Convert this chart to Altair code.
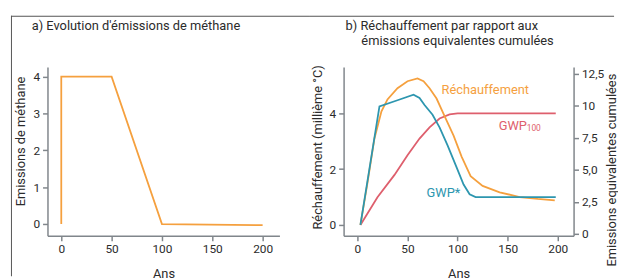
import altair as alt
import pandas as pd

# ---------------- data ----------------
TITLE_A = "a) Evolution d'émissions de méthane"
TITLE_B1 = "b) Réchauffement par rapport aux"
TITLE_B2 = "émissions equivalentes cumulées"

years_a = [0, 0, 50, 100, 200]
emis_a = [0, 4, 4, 0, -0.03]

years_rech = [3, 10, 17, 24, 30, 40, 50, 60, 66, 72, 79, 87, 96, 104, 113, 125, 142, 162, 180, 197]
rech = [0, 1.5, 3.1, 4.07, 4.5, 4.9, 5.15, 5.25, 5.15, 4.9, 4.53, 3.9, 3.2, 2.45, 1.75, 1.4, 1.17, 1.0, 0.93, 0.88]

years_star = [3, 22, 40, 56, 62, 67, 75, 82, 90, 98, 106, 112, 118, 198]
gwp_star = [0, 4.25, 4.47, 4.67, 4.55, 4.3, 3.95, 3.5, 2.85, 2.15, 1.45, 1.1, 1.0, 1.0]

years_100 = [3, 20, 37, 50, 62, 72, 82, 92, 100, 198]
gwp100 = [0.7, 2.87, 4.61, 6.14, 7.45, 8.32, 9.02, 9.34, 9.41, 9.41]

ann_labels = ["Réchauffement", "GWP", "100", "GWP*"]
ann_years = [84, 141, 169, 69]
ann_values = [4.71, 3.4, 3.38, 1.0]

# ---------------- style ----------------
FONT = "'Liberation Sans Narrow', Roboto, sans-serif"
ORANGE = "#F5A03E"
TEAL = "#2D96AF"
RED = "#DE5F6D"
AXIS = "#80868B"
TEXT = "#2b2b2b"
FRAME = "#555555"

frame_df = pd.DataFrame({"part": ["frame"]})

def axis_x():
    return alt.Axis(values=[0, 50, 100, 150, 200], title="Ans", grid=False,
                    titleY=42, titleBaseline="alphabetic")

def frame_bar(x1, x2, y1, y2, col=FRAME):
    return alt.Chart(frame_df).mark_rect(color=col, opacity=1).encode(
        x=alt.value(x1), x2=alt.value(x2), y=alt.value(y1), y2=alt.value(y2))

# ---------------- panel a ----------------
df_a = pd.DataFrame({"year": years_a, "value": emis_a})
xa = alt.X("year:Q", sort=None, scale=alt.Scale(domain=[-13.7, 216.7], nice=False, zero=False),
           axis=axis_x())
ya = alt.Y("value:Q", scale=alt.Scale(domain=[-0.32, 4.26], nice=False, zero=False),
           axis=alt.Axis(values=[0, 1, 2, 3, 4], title="Emissions de méthane", grid=False,
                         titleX=-27, titleY=75, titleAngle=270, titleBaseline="middle",
                         titleAlign="center"))

frame_a_h = frame_bar(-37, 265, -52, -51)
frame_a_v = frame_bar(-37, -36, -52, 212)
title_a = alt.Chart(pd.DataFrame({"t": [TITLE_A]})).mark_text(
    align="left", baseline="alphabetic", fontSize=13, color=TEXT, font=FONT).encode(
    text="t:N", x=alt.value(-16), y=alt.value(-38))
line_a = alt.Chart(df_a).mark_line(color=ORANGE, strokeWidth=1.8).encode(x=xa, y=ya)

panel_a = alt.layer(line_a, title_a, frame_a_h, frame_a_v).properties(width=235, height=171)

# ---------------- panel b ----------------
df_lines = pd.concat([
    pd.DataFrame({"year": years_rech, "value": rech, "series": "Réchauffement"}),
    pd.DataFrame({"year": years_star, "value": gwp_star, "series": "GWP*"}),
])
df_100 = pd.DataFrame({"year": years_100, "value": gwp100})
df_ann = pd.DataFrame({"label": ann_labels, "year": ann_years, "value": ann_values})

xb_scale = alt.Scale(domain=[-13.8, 215.8], nice=False, zero=False)
yl_scale = alt.Scale(domain=[-0.39, 5.66], nice=False, zero=False)
yr_scale = alt.Scale(domain=[-0.15, 13.04], nice=False, zero=False)

xb = alt.X("year:Q", scale=xb_scale, axis=axis_x())

frame_b_h = frame_bar(-35, 274, -52, -51)
title_b1 = alt.Chart(pd.DataFrame({"t": [TITLE_B1]})).mark_text(
    align="left", baseline="alphabetic", fontSize=13, color=TEXT, font=FONT).encode(
    text="t:N", x=alt.value(2), y=alt.value(-38))
title_b2 = alt.Chart(pd.DataFrame({"t": [TITLE_B2]})).mark_text(
    align="left", baseline="alphabetic", fontSize=13, color=TEXT, font=FONT).encode(
    text="t:N", x=alt.value(18), y=alt.value(-22))

lines_b = alt.Chart(df_lines).mark_line(strokeWidth=1.8).encode(
    x=xb,
    y=alt.Y("value:Q", scale=yl_scale,
            axis=alt.Axis(orient="left", values=[0, 2, 4], title="Réchauffement (millième °C)",
                          grid=False, titleX=-26, titleY=81, titleAngle=270,
                          titleBaseline="middle", titleAlign="center")),
    color=alt.Color("series:N", scale=alt.Scale(domain=["Réchauffement", "GWP*"],
                                                range=[ORANGE, TEAL]), legend=None),
)
line_100 = alt.Chart(df_100).mark_line(color=RED, strokeWidth=1.8).encode(
    x=xb,
    y=alt.Y("value:Q", scale=yr_scale,
            axis=alt.Axis(orient="right", values=[0, 2.5, 5, 7.5, 10, 12.5],
                          labelExpr="datum.value == 5 ? '5,0' : replace(format(datum.value, ''), '.', ',')",
                          title="Emissions equivalentes cumulées", grid=False,
                          titleX=38, titleY=104, titleAngle=270,
                          titleBaseline="middle", titleAlign="center")),
)

def ann(label, color, size):
    return alt.Chart(df_ann).transform_filter(alt.datum.label == label).mark_text(
        align="left", baseline="alphabetic", fontSize=size, color=color, font=FONT).encode(
        x=xb, y=alt.Y("value:Q", scale=yl_scale, axis=None), text="label:N")

panel_b = alt.layer(
    line_100, lines_b, title_b1, title_b2, frame_b_h,
    ann("Réchauffement", ORANGE, 13), ann("GWP", RED, 13), ann("100", RED, 8.5),
    ann("GWP*", TEAL, 13),
).resolve_scale(y="independent").properties(width=233, height=171)

chart = alt.hconcat(panel_a, panel_b, spacing=0).properties(
    padding={"left": 3, "top": 6, "right": 0, "bottom": 0}
).configure_view(stroke=None).configure_axis(
    domainColor=AXIS, domainWidth=1.5, tickColor=AXIS, tickWidth=1.5, tickSize=5,
    labelColor=TEXT, labelFont=FONT, labelFontSize=12, labelPadding=3,
    titleColor=TEXT, titleFont=FONT, titleFontSize=13, titleFontWeight="normal",
)

chart.save("out.html", embed_options={"renderer": "svg", "actions": False})
